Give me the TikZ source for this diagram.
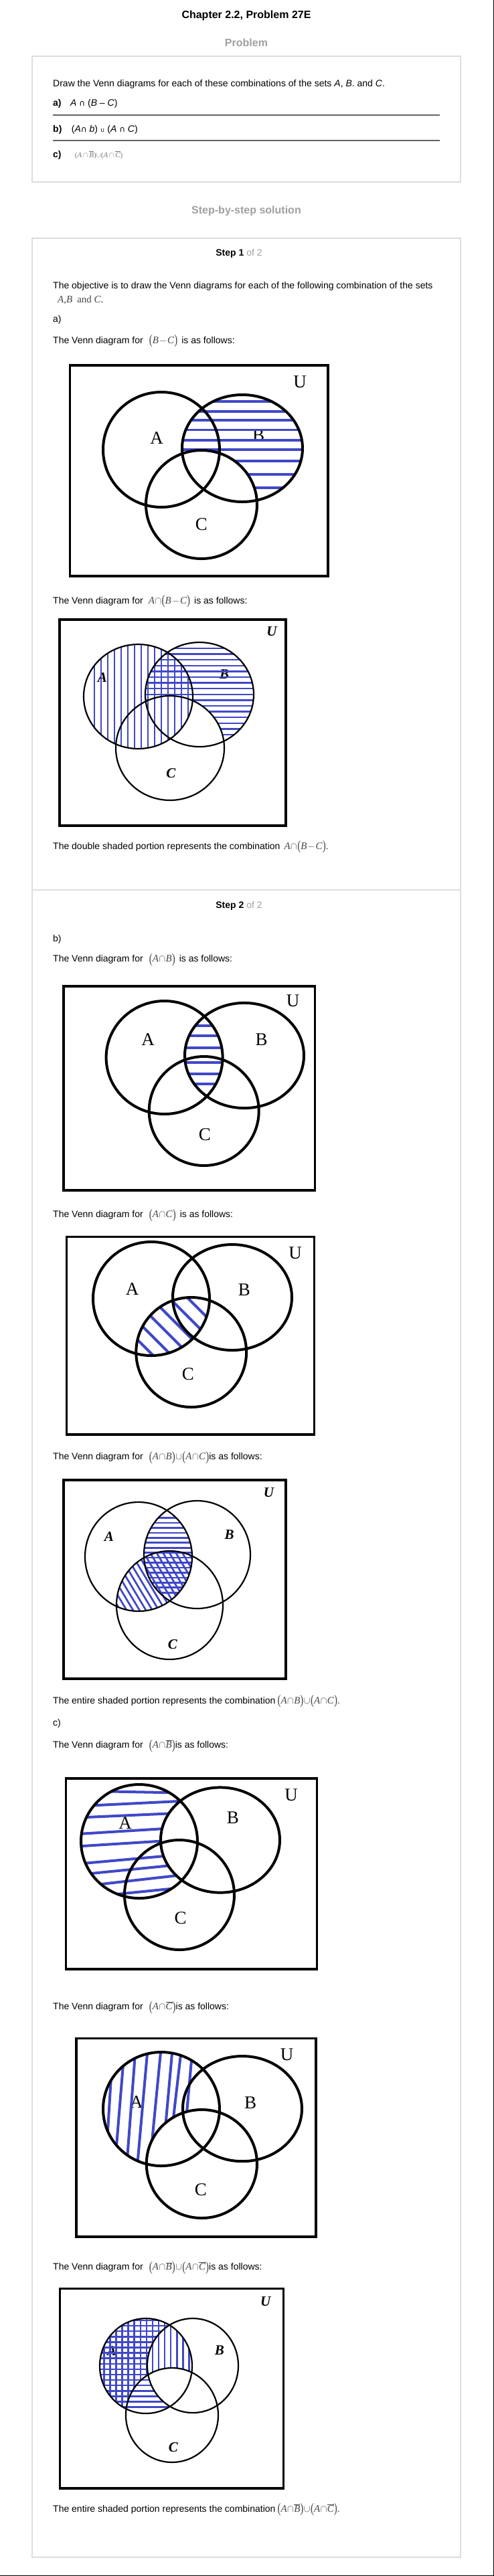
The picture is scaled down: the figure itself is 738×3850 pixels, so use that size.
\documentclass[tikz,border=0pt]{standalone}
\usepackage{fontspec}
\usepackage{graphicx}
\setmainfont{Liberation Sans}
\newfontfamily\tnr{Liberation Serif}
\newfontfamily\dvs{DejaVu Sans}
\definecolor{stripe}{RGB}{64,72,200}
\definecolor{boxgray}{RGB}{221,221,221}
\definecolor{hgray}{RGB}{160,160,160}
\definecolor{rulegray}{RGB}{100,100,100}
\definecolor{fgray}{RGB}{70,70,70}
\definecolor{cgray}{RGB}{120,120,120}
\newcommand{\lp}{\raisebox{-1.5pt}{\scalebox{1}[1.35]{(}}}
\newcommand{\rp}{\raisebox{-1.5pt}{\scalebox{1}[1.35]{)}}}
\newcommand{\Fm}[1]{{\color{fgray}\tnr\fontsize{15}{15}\selectfont #1}}
\newcommand{\I}[1]{\textit{#1}}
\newcommand{\OL}[1]{$\overline{\mbox{\itshape #1}}$}
\newcommand{\capx}{\kern0.5pt$\cap$\kern0.5pt}
\newcommand{\cupx}{\kern0.5pt$\cup$\kern0.5pt}
\newcommand{\minx}{\kern1pt$-$\kern1pt}
\newcommand{\BmC}{\lp\I{B}\minx\I{C}\rp}
\newcommand{\AnB}{\lp\I{A}\capx\I{B}\rp}
\newcommand{\AnC}{\lp\I{A}\capx\I{C}\rp}
\newcommand{\AnBb}{\lp\I{A}\capx\OL{B}\rp}
\newcommand{\AnCb}{\lp\I{A}\capx\OL{C}\rp}
\newcommand{\dcap}{{\dvs\fontsize{12}{12}\selectfont ∩}}
\newcommand{\dcup}{{\dvs\fontsize{9}{9}\selectfont ∪}}
\tikzset{
  txt/.style={anchor=base west, inner sep=0pt, font=\fontsize{14}{16}\selectfont},
  stephead/.style={anchor=base, inner sep=0pt, font=\fontsize{14}{16}\selectfont},
  head/.style={anchor=base, inner sep=0pt, font=\fontsize{16}{18}\selectfont\bfseries},
  panel/.style={draw=boxgray, line width=1.3pt},
  prule/.style={draw=rulegray, line width=2pt},
  ubox/.style={draw=black, line width=3.3pt},
  ring/.style={draw=black, line width=4pt},
  thinring/.style={draw=black, line width=2.2pt},
  lab/.style={inner sep=0pt, font=\tnr\fontsize{27}{27}\selectfont},
  blab/.style={inner sep=0pt, font=\tnr\fontsize{21}{21}\selectfont\bfseries\itshape},
  hatch/.style={draw=stripe, line width=#1},
}
\begin{document}
\begin{tikzpicture}[x=1pt,y=-1pt]
\useasboundingbox (0,0) rectangle (738,3850);
\fill[white] (0,0) rectangle (738,3850);

% ---------- header and problem ----------
\node[head] (title) at (368,27) {Chapter 2.2, Problem 27E};
\node[head,text=hgray] (probhead) at (368,69) {Problem};
\draw[panel] (48,84) rectangle (688,272);
\node[txt] (q) at (79,129) {Draw the Venn diagrams for each of these combinations of the sets \textit{A}, \textit{B}. and \textit{C}.};
\node[txt] (qa) at (79,158.5) {\textbf{a)}};
\node[txt] (qaf) at (105,158.5) {\textit{A} \dcap{} (\textit{B} – \textit{C})};
\draw[prule] (79,171.7) -- (657,171.7);
\node[txt] (qb) at (79,197.3) {\textbf{b)}};
\node[txt] (qbf) at (106.7,197.3) {(\textit{A}\dcap{} \textit{b}) \dcup{} (\textit{A} \dcap{} \textit{C})};
\draw[prule] (79,210) -- (657,210);
\node[txt] (qc) at (79,235) {\textbf{c)}};
\node[txt] (qcf) at (111.7,235) {\color{cgray}\tnr\fontsize{11}{11}\selectfont (\textit{A}\,$\cap$\,\OL{B})$\cup$(\textit{A}\,$\cap$\,\OL{C})};
\node[head,text=hgray] (sbs) at (368,319.5) {Step-by-step solution};

% ---------- solution panel ----------
\draw[panel] (48,356) rectangle (688,3822);
\draw[panel] (48,1330) -- (688,1330);
\node[stephead] (s1) at (357,382.5) {\textbf{Step 1} {\color{hgray}of 2}};
\node[txt] (t1) at (79,431.5) {The objective is to draw the Venn diagrams for each of the following combination of the sets};
\node[txt] (t2) at (86,452.5) {\Fm{\I{A},\I{B}\hspace{7pt}and \I{C}.}};
\node[txt] (t3) at (79,481) {a)};
\node[txt] (t4) at (79,513) {The Venn diagram for\hspace{9pt}\Fm{\BmC}\hspace{6pt}is as follows:};

% ---------- diagram 1 : B - C ----------
\def\EA{(241,672) ellipse [x radius=87pt, y radius=86pt]}
\def\EB{(362,670) ellipse [x radius=90pt, y radius=80pt]}
\def\EC{(301,754) ellipse [x radius=83pt, y radius=81pt]}
\def\FR{(104.5,546) -- (490,546) -- (490,861) -- (104.5,861) -- cycle}
\node[lab] (d1A) at (234,655) {A};
\node[lab] (d1B) at (386,651) {B};
\node[lab] (d1C) at (301,784) {C};
\node[lab] (d1U) at (448,571) {U};
\begin{scope}[even odd rule]
  \clip \EB;
  \clip \FR \EC;
  \foreach \yy in {600,615,628,642.5,658,672,689,709,729}
    \draw[hatch=3.5pt] (250,\yy) -- (470,\yy);
\end{scope}
\draw[ring] \EA; \draw[ring] \EB; \draw[ring] \EC;
\draw[ubox] \FR;

\node[txt] (t5) at (79,902) {The Venn diagram for\hspace{8pt}\Fm{\I{A}\capx\BmC}\hspace{6pt}is as follows:};

% ---------- diagram 2 : A and (B - C) ----------
\def\EA{(206.5,1041) ellipse [x radius=81.5pt, y radius=78pt]}
\def\EB{(298,1038) ellipse [x radius=81pt, y radius=78pt]}
\def\EC{(254,1118) ellipse [x radius=81pt, y radius=78pt]}
\def\FR{(89,926) -- (427,926) -- (427,1234) -- (89,1234) -- cycle}
\node[blab] (d2A) at (153,1013) {A};
\node[blab] (d2B) at (335,1008) {B};
\node[blab] (d2C) at (255.5,1156) {C};
\node[blab] (d2U) at (406,944) {U};
\begin{scope}[even odd rule]
  \clip \EB;
  \clip \FR \EC;
  \foreach \k in {0,...,15} {
    \pgfmathsetmacro\yy{969+8.6*\k}
    \draw[hatch=2.4pt] (200,\yy) -- (400,\yy);
  }
\end{scope}
\begin{scope}
  \clip \EA;
  \foreach \k in {0,...,14} {
    \pgfmathsetmacro\xx{141+10*\k}
    \draw[hatch=2.4pt] (\xx,950) -- (\xx,1130);
  }
\end{scope}
\draw[thinring] \EA; \draw[thinring] \EB; \draw[thinring] \EC;
\draw[ubox] \FR;

\node[txt] (t6) at (79,1269) {The double shaded portion represents the combination\hspace{6pt}\Fm{\I{A}\capx\BmC.}};

% ---------- step 2 ----------
\node[stephead] (s2) at (357,1357) {\textbf{Step 2} {\color{hgray}of 2}};
\node[txt] (t7) at (79,1407) {b)};
\node[txt] (t8) at (79,1437.5) {The Venn diagram for\hspace{9pt}\Fm{\AnB}\hspace{6pt}is as follows:};

% ---------- diagram 3 : A and B ----------
\def\EA{(245.6,1580.5) ellipse [x radius=87pt, y radius=84.5pt]}
\def\EB{(365,1577.5) ellipse [x radius=89pt, y radius=78.6pt]}
\def\EC{(304.7,1660.5) ellipse [x radius=82pt, y radius=81.5pt]}
\def\FR{(95,1474) -- (470.6,1474) -- (470.6,1779) -- (95,1779) -- cycle}
\node[lab] (d3A) at (221,1554) {A};
\node[lab] (d3B) at (390.6,1554) {B};
\node[lab] (d3C) at (306,1696) {C};
\node[lab] (d3U) at (437.6,1496) {U};
\begin{scope}
  \clip \EA;
  \clip \EB;
  \foreach \yy in {1533,1548,1566,1587.5,1604.6,1620}
    \draw[hatch=4pt] (230,\yy) -- (360,\yy);
\end{scope}
\draw[ring] \EA; \draw[ring] \EB; \draw[ring] \EC;
\draw[ubox] \FR;

\node[txt] (t9) at (79,1819.6) {The Venn diagram for\hspace{9pt}\Fm{\AnC}\hspace{6pt}is as follows:};

% ---------- diagram 4 : A and C ----------
\def\EA{(226,1941) ellipse [x radius=87pt, y radius=85pt]}
\def\EB{(347,1939) ellipse [x radius=89pt, y radius=79pt]}
\def\EC{(285.7,2021) ellipse [x radius=82.4pt, y radius=82pt]}
\def\FR{(99.8,1848.6) -- (469.6,1848.6) -- (469.6,2144) -- (99.8,2144) -- cycle}
\node[lab] (d4A) at (197.6,1927) {A};
\node[lab] (d4B) at (365,1928) {B};
\node[lab] (d4C) at (281,2054) {C};
\node[lab] (d4U) at (441,1873) {U};
\begin{scope}
  \clip \EA;
  \clip \EC;
  \foreach \c in {-1797,-1769.5,-1742,-1714.5,-1687,-1659.5} {
    \pgfmathsetmacro\ya{150-\c}
    \pgfmathsetmacro\yb{350-\c}
    \draw[hatch=4pt] (150,\ya) -- (350,\yb);
  }
\end{scope}
\draw[ring] \EA; \draw[ring] \EB; \draw[ring] \EC;
\draw[ubox] \FR;

\node[txt] (t10) at (79,2181.8) {The Venn diagram for\hspace{9pt}\Fm{\AnB\cupx\AnC}is as follows:};

% ---------- diagram 5 : (A and B) or (A and C) ----------
\def\EA{(207,2326.5) ellipse [x radius=80pt, y radius=81.5pt]}
\def\EB{(294.5,2323.5) ellipse [x radius=79.5pt, y radius=80.5pt]}
\def\EC{(253.5,2399) ellipse [x radius=79.5pt, y radius=81pt]}
\def\FR{(95,2212) -- (427,2212) -- (427,2509) -- (95,2509) -- cycle}
\node[blab] (d5A) at (163,2297) {A};
\node[blab] (d5B) at (342.6,2294) {B};
\node[blab] (d5C) at (258,2458) {C};
\node[blab] (d5U) at (401.4,2230.7) {U};
\begin{scope}
  \clip \EA;
  \clip \EB;
  \foreach \k in {0,...,15} {
    \pgfmathsetmacro\yy{2268.5+7.45*\k}
    \draw[hatch=2.7pt] (200,\yy) -- (300,\yy);
  }
\end{scope}
\begin{scope}
  \clip \EA;
  \clip \EC;
  \foreach \k in {-3,...,16} {
    \pgfmathsetmacro\xa{178.3+9.6*\k-77}
    \pgfmathsetmacro\xb{178.3+9.6*\k+77}
    \draw[hatch=2.7pt] (\xa,2259.7) -- (\xb,2516.9);
  }
\end{scope}
\draw[thinring] \EA; \draw[thinring] \EB; \draw[thinring] \EC;
\draw[ubox] \FR;

\node[txt] (t11) at (79,2546.4) {The entire shaded portion represents the combination\hspace{3pt}\Fm{\AnB\cupx\AnC.}};
\node[txt] (t12) at (79,2579) {c)};
\node[txt] (t13) at (79,2612.5) {The Venn diagram for\hspace{9pt}\Fm{\AnBb}is as follows:};

% ---------- diagram 6 : A and not B ----------
\def\EA{(208,2752) ellipse [x radius=87pt, y radius=85pt]}
\def\EB{(329,2750) ellipse [x radius=89pt, y radius=78.6pt]}
\def\EC{(268,2832) ellipse [x radius=82pt, y radius=82pt]}
\def\FR{(98.8,2658) -- (473.4,2658) -- (473.4,2943) -- (98.8,2943) -- cycle}
\node[lab] (d6A) at (187,2725) {A};
\node[lab] (d6B) at (348,2717) {B};
\node[lab] (d6C) at (269.6,2867) {C};
\node[lab] (d6U) at (435,2683) {U};
\begin{scope}[even odd rule]
  \clip \EA;
  \clip \FR \EB;
  \foreach \ya/\yb in {2676.5/2680.1, 2699.5/2690.4, 2716.6/2708.3, 2741.1/2729.6, 2759.5/2747.9, 2785.8/2769.1, 2802.1/2783.6, 2820/2799.1, 2836.9/2818.4}
    \draw[hatch=4pt] (115,\ya) -- (300,\yb);
\end{scope}
\draw[ring] \EA; \draw[ring] \EB; \draw[ring] \EC;
\draw[ubox] \FR;

\node[txt] (t14) at (79,3003.6) {The Venn diagram for\hspace{9pt}\Fm{\AnCb}is as follows:};

% ---------- diagram 7 : A and not C ----------
\def\EA{(241,3152) ellipse [x radius=87pt, y radius=85pt]}
\def\EB{(362,3151.6) ellipse [x radius=89pt, y radius=78.6pt]}
\def\EC{(301.4,3234) ellipse [x radius=82.6pt, y radius=81pt]}
\def\FR{(114,3046.8) -- (472,3046.8) -- (472,3342.9) -- (114,3342.9) -- cycle}
\node[lab] (d7A) at (203.8,3141.4) {A};
\node[lab] (d7B) at (374,3143) {B};
\node[lab] (d7C) at (299.8,3272.5) {C};
\node[lab] (d7U) at (428.7,3070.7) {U};
\begin{scope}[even odd rule]
  \clip \EA;
  \clip \FR \EC;
  \foreach \xa/\xb in {168.7/157.3, 186.1/170.9, 202.7/188.6, 220.8/204.4, 240.7/222.8, 257.8/241.2, 271.2/249.8, 287.8/271.1}
    \draw[hatch=4pt] (\xa,3060) -- (\xb,3245);
\end{scope}
\draw[ring] \EA; \draw[ring] \EB; \draw[ring] \EC;
\draw[ubox] \FR;

\node[txt] (t15) at (79,3392.9) {The Venn diagram for\hspace{9pt}\Fm{\AnBb\cupx\AnCb}is as follows:};

% ---------- diagram 8 : (A and not B) or (A and not C) ----------
\def\EA{(218,3536) ellipse [x radius=69pt, y radius=71pt]}
\def\EB{(288,3535.5) ellipse [x radius=68pt, y radius=70.5pt]}
\def\EC{(257,3609.5) ellipse [x radius=69pt, y radius=70.5pt]}
\def\FR{(89.4,3420.7) -- (423.5,3420.7) -- (423.5,3719) -- (89.4,3719) -- cycle}
\node[blab] (d8A) at (167,3514) {A};
\node[blab] (d8B) at (328,3513) {B};
\node[blab] (d8C) at (259,3658) {C};
\node[blab] (d8U) at (396.7,3440) {U};
\begin{scope}[even odd rule]
  \clip \EA;
  \clip \FR \EC;
  \foreach \k in {0,...,14} {
    \pgfmathsetmacro\xx{155.3+9.08*\k}
    \draw[hatch=2.5pt] (\xx,3455) -- (\xx,3615);
  }
\end{scope}
\begin{scope}[even odd rule]
  \clip \EA;
  \clip \FR \EB;
  \foreach \k in {0,...,16} {
    \pgfmathsetmacro\yy{3468+8.1*\k}
    \draw[hatch=2.5pt] (140,\yy) -- (300,\yy);
  }
\end{scope}
\draw[thinring] \EA; \draw[thinring] \EB; \draw[thinring] \EC;
\draw[ubox] \FR;

\node[txt] (t16) at (79,3754) {The entire shaded portion represents the combination\hspace{3pt}\Fm{\AnBb\cupx\AnCb.}};

% page edges
\draw[line width=1.3pt] (737.3,0) -- (737.3,3850);
\draw[line width=1.3pt] (0,3849.3) -- (738,3849.3);
\end{tikzpicture}
\end{document}
